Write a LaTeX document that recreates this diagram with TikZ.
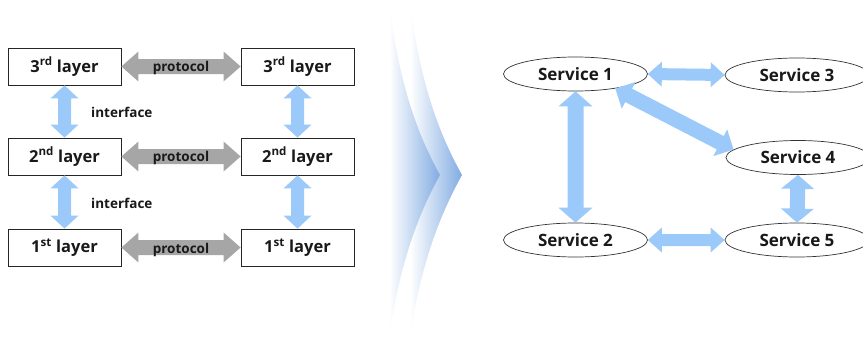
\documentclass[tikz,border=0pt]{standalone}
\usepackage{fontspec}
\setmainfont{Open Sans}
\usetikzlibrary{calc,shapes.geometric}
\definecolor{arrblue}{RGB}{155,201,249}
\definecolor{arrgray}{RGB}{166,166,166}
\definecolor{chev}{RGB}{130,172,226}
\definecolor{txt}{RGB}{25,25,25}
\newcommand{\dbarrow}[6]{%
  \coordinate (da) at (#1); \coordinate (db) at (#2);
  \coordinate (dp) at ($(da)!#6!(db)$);
  \coordinate (dq) at ($(db)!#6!(da)$);
  \fill[#3] (da) -- ($(dp)!#5!90:(db)$) -- ($(dp)!#4!90:(db)$)
    -- ($(dq)!#4!-90:(da)$) -- ($(dq)!#5!-90:(da)$) -- (db)
    -- ($(dq)!#5!90:(da)$) -- ($(dq)!#4!90:(da)$)
    -- ($(dp)!#4!-90:(db)$) -- ($(dp)!#5!-90:(db)$) -- cycle;}
\begin{document}
\begin{tikzpicture}[x=1pt,y=-1pt,
  layerbox/.style={draw=black!85,line width=0.8pt,fill=white,minimum width=113pt,minimum height=37pt,inner sep=0pt,font=\fontsize{16.5}{18}\selectfont\bfseries,text=txt},
  svc/.style={draw=black!80,line width=0.7pt,ellipse,fill=white,minimum width=144pt,minimum height=34pt,inner sep=0pt,font=\fontsize{17}{19}\selectfont\bfseries,text=txt},
  lbl/.style={font=\fontsize{13.5}{15}\selectfont\bfseries,text=txt,inner sep=0pt}]
\useasboundingbox (0,0) rectangle (863,340);
% chevron
\shade[left color=white,right color=chev] (410,3) .. controls (420,80) and (437,130) .. (462,175) .. controls (437,220) and (420,270) .. (410,337) .. controls (412,250) and (412,100) .. (410,3) -- cycle;
\shade[left color=white,right color=chev] (389,3) .. controls (399,80) and (415,130) .. (440,175) .. controls (415,220) and (399,270) .. (389,337) .. controls (392,250) and (392,100) .. (389,3) -- cycle;
% layers
\node[layerbox] (L3) at (64.5,66.5) {3\textsuperscript{rd} layer};
\node[layerbox] (R3) at (297.5,66.5) {3\textsuperscript{rd} layer};
\node[layerbox] (L2) at (64.5,156.5) {2\textsuperscript{nd} layer};
\node[layerbox] (R2) at (297.5,156.5) {2\textsuperscript{nd} layer};
\node[layerbox] (L1) at (64.5,247.5) {1\textsuperscript{st} layer};
\node[layerbox] (R1) at (297.5,247.5) {1\textsuperscript{st} layer};
\dbarrow{L3.east}{R3.west}{arrgray}{7.5pt}{15pt}{17pt}
\dbarrow{L2.east}{R2.west}{arrgray}{7.5pt}{15pt}{17pt}
\dbarrow{L1.east}{R1.west}{arrgray}{7.5pt}{15pt}{17pt}
\node[lbl] (p3) at (181,68) {protocol};
\node[lbl] (p2) at (181,158) {protocol};
\node[lbl] (p1) at (181,250) {protocol};
\dbarrow{L3.south}{L2.north}{arrblue}{6.5pt}{14pt}{13pt}
\dbarrow{R3.south}{R2.north}{arrblue}{6.5pt}{14pt}{13pt}
\dbarrow{L2.south}{L1.north}{arrblue}{6.5pt}{14pt}{13pt}
\dbarrow{R2.south}{R1.north}{arrblue}{6.5pt}{14pt}{13pt}
\node[lbl,anchor=west] (i1) at (91,112) {interface};
\node[lbl,anchor=west] (i2) at (91,203) {interface};
% services
\node[svc] (S1) at (575.5,74) {Service 1};
\node[svc] (S3) at (797,75) {Service 3};
\node[svc] (S4) at (798,157.5) {Service 4};
\node[svc] (S2) at (575.5,240) {Service 2};
\node[svc] (S5) at (797,240) {Service 5};
\dbarrow{S1.east}{S3.west}{arrblue}{6pt}{12.5pt}{14pt}
\dbarrow{S2.east}{S5.west}{arrblue}{6pt}{12.5pt}{14pt}
\dbarrow{S1.south}{S2.north}{arrblue}{8pt}{17pt}{15pt}
\dbarrow{S4.south}{S5.north}{arrblue}{7.5pt}{16.5pt}{14pt}
\dbarrow{S1.-20}{S4.173}{arrblue}{7.5pt}{15pt}{15pt}
\end{tikzpicture}
\end{document}
